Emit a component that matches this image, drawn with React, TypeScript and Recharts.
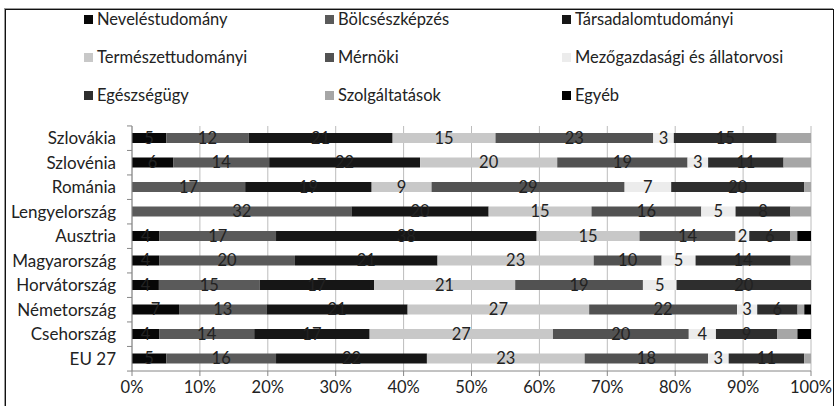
import { BarChart, Bar, XAxis, YAxis, CartesianGrid, LabelList } from "recharts";

const countries = [
  "Szlovákia",
  "Szlovénia",
  "Románia",
  "Lengyelország",
  "Ausztria",
  "Magyarország",
  "Horvátország",
  "Németország",
  "Csehország",
  "EU 27",
];

const fields = [
  "Neveléstudomány",
  "Bölcsészképzés",
  "Társadalomtudományi",
  "Természettudományi",
  "Mérnöki",
  "Mezőgazdasági és állatorvosi",
  "Egészségügy",
  "Szolgáltatások",
  "Egyéb",
];

// share of graduates per field, %, one value per country (same order as countries)
const neveles = [5, 6, 0, 0, 4, 4, 4, 7, 4, 5];
const bolcsesz = [12, 14, 17, 32, 17, 20, 15, 13, 14, 16];
const tarsadalom = [21, 22, 19, 20, 38, 21, 17, 21, 17, 22];
const termeszet = [15, 20, 9, 15, 15, 23, 21, 27, 27, 23];
const mernoki = [23, 19, 29, 16, 14, 10, 19, 22, 20, 18];
const mezogazdasag = [3, 3, 7, 5, 2, 5, 5, 3, 4, 3];
const egeszseg = [15, 11, 20, 8, 6, 14, 20, 6, 9, 11];
const szolgaltatas = [5, 4, 1, 3, 1, 3, 0, 1, 3, 1];
const egyeb = [0, 0, 0, 0, 2, 0, 0, 1, 2, 0];

const percentTicks = [0, 0.1, 0.2, 0.3, 0.4, 0.5, 0.6, 0.7, 0.8, 0.9, 1];

const seriesValues = [neveles, bolcsesz, tarsadalom, termeszet, mernoki, mezogazdasag, egeszseg, szolgaltatas, egyeb];
const colors = ["#070707", "#5a5a5a", "#161616", "#c8c8c8", "#525252", "#ececec", "#2e2e2e", "#a6a6a6", "#000000"];
const labelled = [true, true, true, true, true, true, true, false, false];

const data = countries.map((country, i) => {
  const row: Record<string, string | number> = { country };
  fields.forEach((f, j) => {
    row[f] = seriesValues[j][i];
  });
  return row;
});

const FONT = "Lato, 'Open Sans', sans-serif";
const TEXT = "#222";
const HALF_BAND = 12.3;

const CountryTick = (props: any) => {
  const { x, y, payload, index } = props;
  return (
    <g>
      <text x={x} y={y} dy={6} textAnchor="end" fill={TEXT} fontSize={17} fontFamily={FONT}>
        {payload.value}
      </text>
      <line x1={x + 11} x2={x + 16} y1={y - HALF_BAND} y2={y - HALF_BAND} stroke="#868686" />
      {index === countries.length - 1 && (
        <line x1={x + 11} x2={x + 16} y1={y + HALF_BAND} y2={y + HALF_BAND} stroke="#868686" />
      )}
    </g>
  );
};

function ChartLegend() {
  return (
    <div
      style={{
        position: "absolute",
        left: 84,
        top: 9,
        display: "grid",
        gridTemplateColumns: "241px 237px 260px",
        gridAutoRows: "38px",
        fontFamily: FONT,
        fontSize: 16.5,
        color: TEXT,
      }}
    >
      {fields.map((f, j) => (
        <div key={f} style={{ display: "flex", alignItems: "center", height: 20, whiteSpace: "nowrap" }}>
          <span style={{ width: 9, height: 9, background: colors[j], marginRight: 4, display: "inline-block" }} />
          <span>{f}</span>
        </div>
      ))}
    </div>
  );
}

export default function App() {
  return (
    <div style={{ position: "absolute", left: 0, top: 0, width: 837, height: 406, background: "#fff", overflow: "hidden" }}>
      <div
        style={{
          position: "absolute",
          left: 5,
          top: 9,
          width: 827,
          height: 410,
          border: "1.5px solid #111",
          boxShadow: "-1px -1px 0 #9a9a9a",
        }}
      />
      <ChartLegend />
      <div style={{ position: "absolute", left: 0, top: 0 }}>
        <BarChart
          width={837}
          height={406}
          data={data}
          layout="vertical"
          stackOffset="expand"
          barSize={10}
          margin={{ top: 126, right: 26, bottom: 0, left: 0 }}
        >
          <CartesianGrid horizontal={false} stroke="#bcbcbc" />
          <XAxis
            type="number"
            domain={[0, 1]}
            ticks={percentTicks}
            tickFormatter={(v: number) => `${Math.round(v * 100)}%`}
            stroke="#868686"
            tickSize={5}
            tickMargin={5}
            height={35}
            tick={{ fill: TEXT, fontSize: 16.5, fontFamily: FONT }}
          />
          <YAxis
            type="category"
            dataKey="country"
            width={132}
            stroke="#868686"
            tickLine={false}
            tickSize={0}
            tickMargin={16}
            interval={0}
            tick={<CountryTick />}
          />
          {fields.map((f, j) => (
            <Bar key={f} dataKey={f} stackId="a" fill={colors[j]} isAnimationActive={false}>
              {labelled[j] && (
                <LabelList
                  dataKey={f}
                  position="center"
                  formatter={(v: any) => (v ? v : "")}
                  fill={TEXT}
                  fontSize={16.5}
                  fontFamily={FONT}
                />
              )}
            </Bar>
          ))}
        </BarChart>
      </div>
    </div>
  );
}
